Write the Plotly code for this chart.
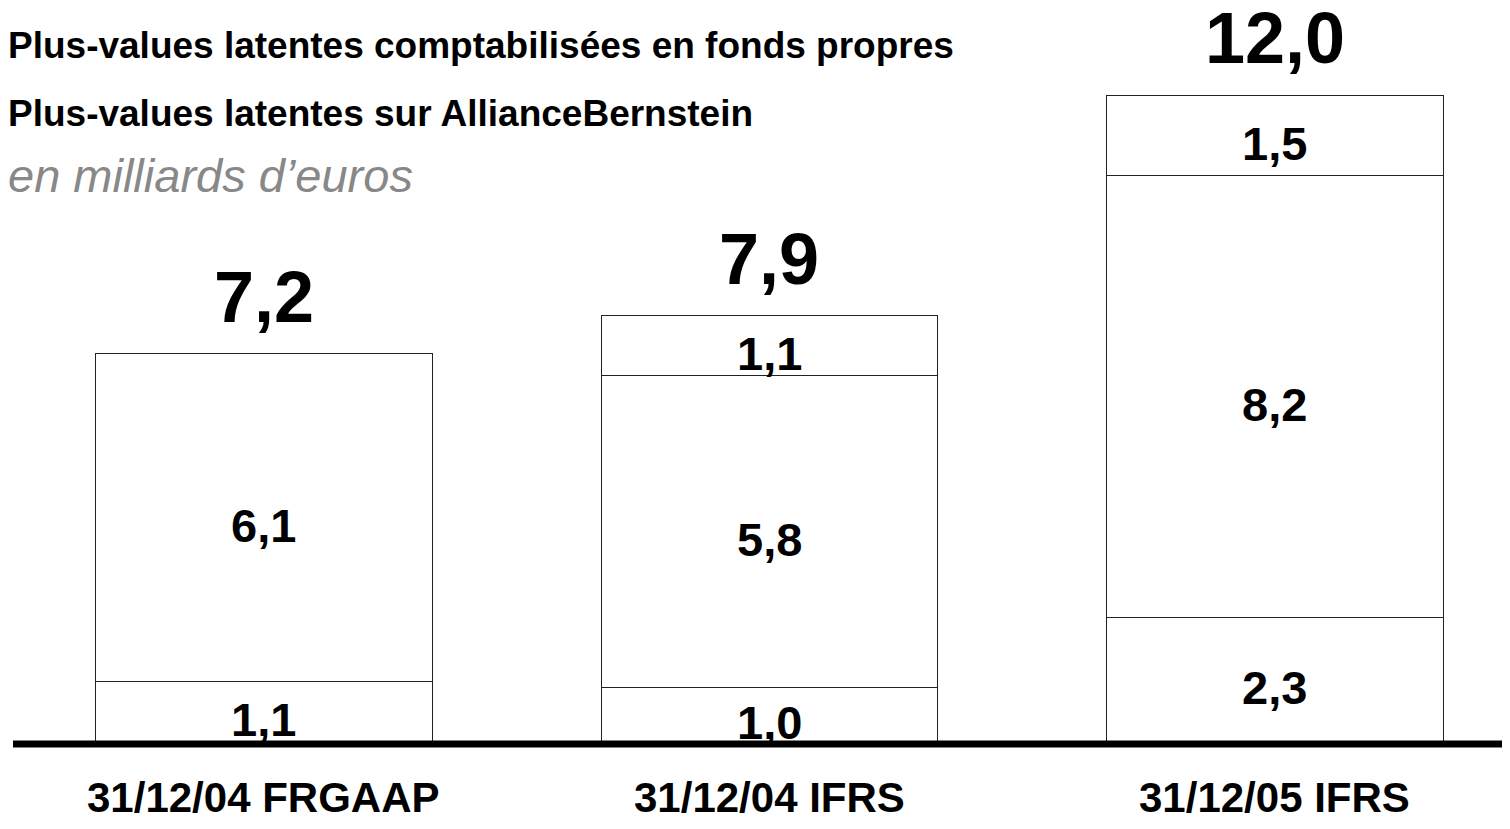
import plotly.graph_objects as go

categories = ["31/12/04 FRGAAP", "31/12/04 IFRS", "31/12/05 IFRS"]
bottom_vals = [1.1, 1.0, 2.3]
middle_vals = [6.1, 5.8, 8.2]
top_vals = [None, 1.1, 1.5]
totals = [7.2, 7.9, 12.0]

title_lines = [
    "Plus-values latentes comptabilisées en fonds propres",
    "Plus-values latentes sur AllianceBernstein",
]
unit_label = "en milliards d\u2019euros"

FONT = "Liberation Sans, Arial, sans-serif"
W, H = 1502, 821  # page body has an 8px margin


def fr(v):
    return f"{v:.1f}".replace(".", ",")


xs = list(range(len(categories)))
fig = go.Figure()
bar_style = dict(marker=dict(color="white", line=dict(color="#222", width=1)), width=0.665,
                 hoverinfo="skip", showlegend=False)
for series in (bottom_vals, middle_vals, top_vals):
    fig.add_trace(go.Bar(x=xs, y=series, **bar_style))

annotations = []
for i in xs:
    base = 0.0
    for series in (bottom_vals, middle_vals, top_vals):
        v = series[i]
        if v is None:
            continue
        annotations.append(dict(x=i, y=base + v / 2, xref="x", yref="y", text=f"<b>{fr(v)}</b>",
                                showarrow=False, yanchor="middle", yshift=-8,
                                font=dict(family=FONT, size=47, color="black")))
        base += v
    annotations.append(dict(x=i, y=totals[i], xref="x", yref="y", text=f"<b>{fr(totals[i])}</b>",
                            showarrow=False, yanchor="bottom", yshift=16, borderpad=0,
                            font=dict(family=FONT, size=72, color="black")))
    annotations.append(dict(x=i, y=0, xref="x", yref="paper", text=f"<b>{categories[i]}</b>",
                            showarrow=False, yanchor="middle", yshift=-56,
                            font=dict(family=FONT, size=42, color="black")))

annotations.append(dict(x=0, y=1, xref="paper", yref="paper", text=f"<b>{title_lines[0]}</b>",
                        showarrow=False, xanchor="left", yanchor="middle", xshift=-2, yshift=-37,
                        font=dict(family=FONT, size=37, color="black")))
annotations.append(dict(x=0, y=1, xref="paper", yref="paper", text=f"<b>{title_lines[1]}</b>",
                        showarrow=False, xanchor="left", yanchor="middle", xshift=-2, yshift=-105,
                        font=dict(family=FONT, size=37, color="black")))
annotations.append(dict(x=0, y=1, xref="paper", yref="paper", text=f"<i>{unit_label}</i>",
                        showarrow=False, xanchor="left", yanchor="middle", xshift=-2, yshift=-167,
                        font=dict(family=FONT, size=47, color="#888888")))

fig.update_layout(
    width=W, height=H,
    margin=dict(l=0, r=0, t=0, b=88),
    paper_bgcolor="white", plot_bgcolor="white",
    barmode="stack",
    xaxis=dict(range=[-0.5064, 2.4649], visible=False, fixedrange=True),
    yaxis=dict(range=[0, 13.62], visible=False, fixedrange=True),
    annotations=annotations,
    shapes=[dict(type="line", xref="paper", yref="paper", x0=5 / W, x1=1, y0=-3 / 733, y1=-3 / 733,
                 line=dict(color="black", width=7), layer="above")],
)

fig.write_html("out.html")
